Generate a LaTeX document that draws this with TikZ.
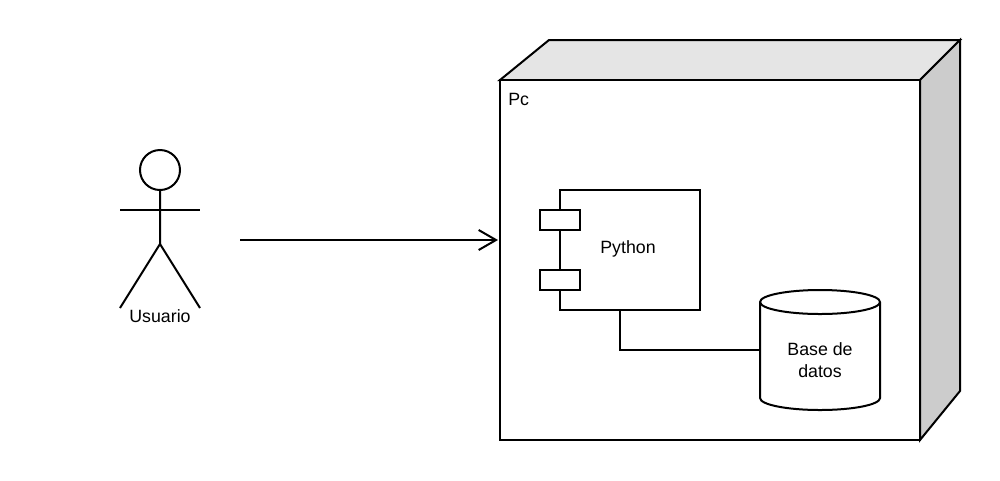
\documentclass[tikz,border=0pt]{standalone}
\usepackage{fontspec}
\setmainfont{Liberation Sans}
\usepackage{tikz}
\usetikzlibrary{arrows.meta,shapes.geometric}
\tikzset{
  shapeline/.style = {draw=black, line width=1.5pt},
  portbox/.style = {shapeline, fill=white, minimum width=30pt, minimum height=15pt, inner sep=0pt},
  lbl/.style = {font=\fontsize{13.33}{15}\selectfont, inner sep=0pt, align=center}
}
\begin{document}
\begin{tikzpicture}[x=0.75pt,y=-0.75pt]
  \useasboundingbox (0,0) rectangle (1000,480);
  % node
  \draw [shapeline, fill=black!10] (500,80) -- (549,40) -- (960,40) -- (920,80) -- cycle;
  \draw [shapeline, fill=black!20] (920,80) -- (960,40) -- (960,391) -- (920,440) -- cycle;
  \node (pc) [shapeline, fill=white, minimum width=315pt, minimum height=270pt, inner sep=0pt, outer sep=0pt] at (710,260) {};
  \node (pclabel) [lbl, anchor=west] at (508,99) {Pc};
  % component
  \node (python) [shapeline, fill=white, minimum width=105pt, minimum height=90pt, inner sep=0pt, outer sep=0pt] at (630,250) {};
  \node (pythonlabel) [lbl] at (628,249) {Python};
  \node (porta) [portbox] at (560,220) {};
  \node (portb) [portbox] at (560,280) {};
  % database
  \coordinate (dbleft) at (760,350);
  \draw [shapeline, fill=white] (760,302) -- (760,398) arc [start angle=180, end angle=360, x radius=60, y radius=-12] -- (880,302) arc [start angle=0, end angle=180, x radius=60, y radius=-12] -- cycle;
  \draw [shapeline] (760,302) arc [start angle=180, end angle=360, x radius=60, y radius=-12];
  \node (dblabel) [lbl] at (820,360) {Base de\\[1.2pt]datos};
  \draw [shapeline] ([xshift=-7.5pt]python.south) -- (620,350) -- (dbleft);
  % actor
  \node (head) [shapeline, circle, minimum size=30pt, inner sep=0pt, outer sep=0pt] at (160,170) {};
  \coordinate (hip) at (160,244);
  \coordinate (lfoot) at (120,308);
  \coordinate (rfoot) at (200,308);
  \draw [shapeline] (head) -- (hip) -- (lfoot);
  \draw [shapeline] (hip) -- (rfoot);
  \draw [shapeline] (120,210) -- (200,210);
  \node (usuario) [lbl] at (160,316) {Usuario};
  % access
  \coordinate (start) at (240,240);
  \draw [shapeline, shorten >=1.5pt, -{Straight Barb[length=13pt,width=15pt]}] (start) -- (start -| pc.west);
\end{tikzpicture}
\end{document}
